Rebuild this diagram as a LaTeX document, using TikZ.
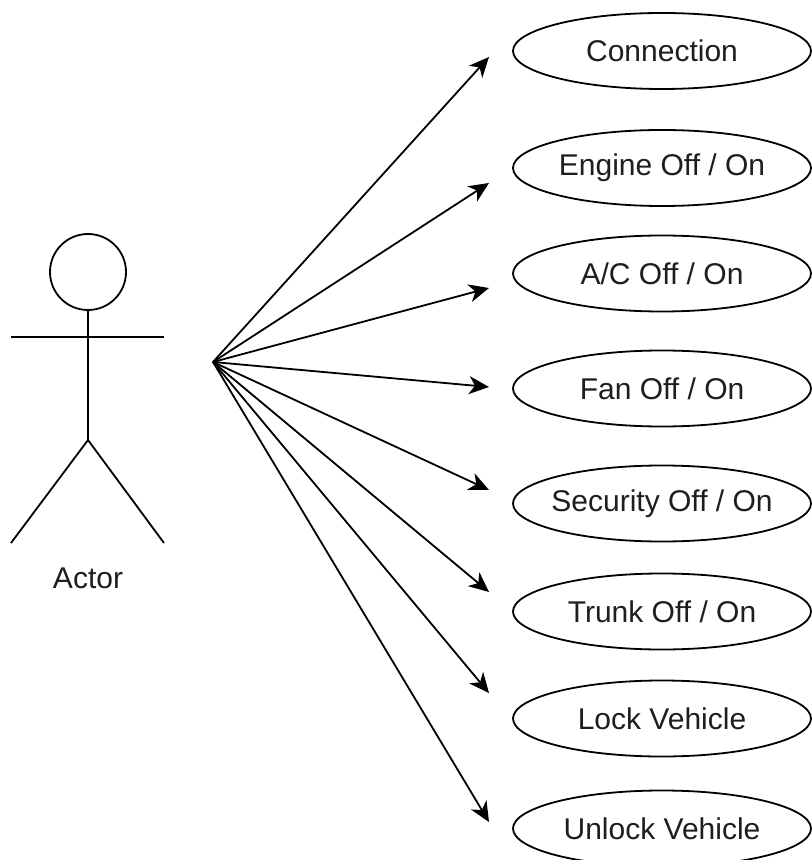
\documentclass[tikz,border=0pt]{standalone}
\usepackage{xcolor}
\usepackage{fontspec}
\setmainfont{Liberation Sans}
\usepackage{tikz}
\usetikzlibrary{shapes.geometric, arrows.meta, positioning}
\definecolor{mydark}{RGB}{0,0,0}
\definecolor{mytext}{RGB}{30,30,30}
\tikzset{
  usecase/.style={ellipse, draw=mydark, fill=white,
    minimum width=149pt, minimum height=38pt, inner sep=0pt,
    font=\fontsize{15}{18}\selectfont, text=mytext, line width=0.9pt},
  stick/.style={line width=0.9pt, color=mydark},
  arrow/.style={-{Stealth[length=10pt, width=9pt, inset=3pt]}, line width=0.9pt, color=mydark}
}

\begin{document}
\begin{tikzpicture}[x=0.5pt, y=-0.5pt]
  \useasboundingbox (0,0) rectangle (811,860);

  % Actor
  \node[circle, draw=mydark, line width=0.9pt, minimum size=38pt, inner sep=0pt] (head) at (88,272) {};
  \coordinate (hip) at (88,440);
  \coordinate (lhand) at (11,337);
  \coordinate (rhand) at (164,337);
  \coordinate (lfoot) at (11,543);
  \coordinate (rfoot) at (164,543);
  \draw[stick] (head.south) -- (hip);
  \draw[stick] (lhand) -- (rhand);
  \draw[stick] (lfoot) -- (hip) -- (rfoot);
  \node[font=\fontsize{15}{18}\selectfont, text=mytext] (actor) at (88,578) {Actor};

  % Use cases and arrows
  \coordinate (src) at (213,362);
  \foreach \cy/\nm/\txt/\ty in {51/conn/Connection/57,
      168/engine/{Engine Off / On}/183,
      273.5/ac/{A/C Off / On}/288,
      388.5/fan/{Fan Off / On}/387,
      503.5/sec/{Security Off / On}/490,
      611.5/trunk/{Trunk Off / On}/592,
      718.5/lock/{Lock Vehicle}/693,
      828.5/unlock/{Unlock Vehicle}/822} {
    \node[usecase] (\nm) at (662,\cy) {\makebox[0pt]{\txt}};
    \coordinate (\nm tip) at (489,\ty);
    \draw[arrow] (src) -- (\nm tip);
  }
\end{tikzpicture}
\end{document}
